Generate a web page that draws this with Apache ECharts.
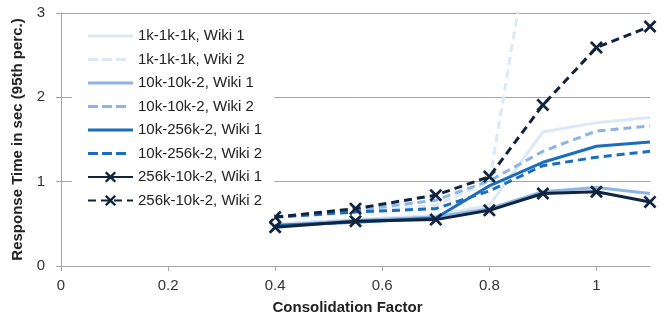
<!DOCTYPE html>
<html>
<head>
<meta charset="utf-8">
<script src="https://cdn.jsdelivr.net/npm/echarts@6/dist/echarts.min.js"></script>
<style>
  html, body { margin: 0; padding: 0; background: #fff; }
  #chart { width: 665px; height: 320px; }
</style>
</head>
<body>
<div id="chart"></div>
<script>
// consolidation factors
const factors = [0.4, 0.55, 0.7, 0.8, 0.9, 1.0, 1.1];

// 95th percentile response time (sec)
const k1k1k1Wiki1 = [0.50, 0.55, 0.60, 0.72, 1.59, 1.70, 1.76];
const k1k1k1Wiki2 = [0.57, 0.64, 0.72, 1.00, 4.80, null, null];
const k10k10Wiki1 = [0.48, 0.54, 0.58, 0.68, 0.88, 0.93, 0.86];
const k10k10Wiki2 = [0.58, 0.66, 0.78, 1.01, 1.36, 1.60, 1.66];
const k10k256Wiki1 = [0.48, 0.52, 0.57, 0.95, 1.23, 1.42, 1.47];
const k10k256Wiki2 = [0.58, 0.64, 0.68, 0.89, 1.19, 1.29, 1.36];
const k256k10Wiki1 = [0.46, 0.53, 0.55, 0.66, 0.86, 0.88, 0.76];
const k256k10Wiki2 = [0.58, 0.68, 0.84, 1.06, 1.91, 2.59, 2.84];

const xTicks = [0, 0.2, 0.4, 0.6, 0.8, 1];

const font = 'Liberation Sans, Arial, sans-serif';
const crossMark = 'path://M0,1.5 L1.5,0 L5,3.5 L8.5,0 L10,1.5 L6.5,5 L10,8.5 L8.5,10 L5,6.5 L1.5,10 L0,8.5 L3.5,5 Z';

// legend icons: tiny corner specks keep the 45x14 box so the stroke stays thin
const box = 'M0,0 h0.01 v0.01 h-0.01 Z M44.99,13.99 h0.01 v0.01 h-0.01 Z ';
const solidIcon = 'path://' + box + 'M0,5.5 h45 v3 h-45 Z';
const dashIcon = 'path://' + box + 'M0,5.5 h10 v3 h-10 Z M14,5.5 h10 v3 h-10 Z M28,5.5 h10 v3 h-10 Z';

const pairs = arr => factors.map((f, i) => [f, arr[i]]);

const makeSeries = (name, data, color, dashed, marked) => ({
  name: name,
  type: 'line',
  data: pairs(data),
  color: color,
  symbol: marked ? crossMark : 'none',
  symbolSize: 13,
  showSymbol: marked,
  itemStyle: { color: color },
  lineStyle: { width: 3, color: color, type: dashed ? [8, 5] : 'solid' },
  clip: true,
  animation: false
});

const chart = echarts.init(document.getElementById('chart'));

chart.setOption({
  backgroundColor: '#fff',
  grid: { left: 61, right: 15, top: 13, bottom: 52 },
  legend: {
    orient: 'vertical',
    left: 72,
    top: 14,
    padding: [14, 12, 10, 15],
    backgroundColor: '#fff',
    itemWidth: 45,
    itemHeight: 14,
    itemGap: 7.5,
    textStyle: { fontFamily: font, fontSize: 15, color: '#222', lineHeight: 16 },
    data: [
      { name: '1k-1k-1k, Wiki 1', icon: solidIcon },
      { name: '1k-1k-1k, Wiki 2', icon: dashIcon },
      { name: '10k-10k-2, Wiki 1', icon: solidIcon },
      { name: '10k-10k-2, Wiki 2', icon: dashIcon },
      { name: '10k-256k-2, Wiki 1', icon: solidIcon },
      { name: '10k-256k-2, Wiki 2', icon: dashIcon },
      { name: '256k-10k-2, Wiki 1' },
      { name: '256k-10k-2, Wiki 2' }
    ]
  },
  xAxis: {
    type: 'value',
    min: 0,
    max: 1.1,
    interval: 0.2,
    name: 'Consolidation Factor',
    nameLocation: 'middle',
    nameGap: 34,
    nameTextStyle: { fontFamily: font, fontSize: 15, fontWeight: 'bold', color: '#222', padding: [0, 16, 0, 0] },
    axisLine: { lineStyle: { color: '#a6a6a6', width: 1 } },
    axisTick: { show: true, length: 5, lineStyle: { color: '#a6a6a6' } },
    splitLine: { show: false },
    axisLabel: {
      fontFamily: font, fontSize: 15, color: '#333', margin: 12,
      showMaxLabel: false,
      formatter: v => xTicks.some(t => Math.abs(t - v) < 1e-9) ? String(+v.toFixed(1)) : ''
    }
  },
  yAxis: {
    type: 'value',
    min: 0,
    max: 3,
    interval: 1,
    name: 'Response Time in sec (95th perc.)',
    nameLocation: 'middle',
    nameGap: 34,
    nameTextStyle: { fontFamily: font, fontSize: 15, fontWeight: 'bold', color: '#222' },
    axisLine: { show: true, lineStyle: { color: '#a6a6a6', width: 1 } },
    axisTick: { show: true, length: 5, lineStyle: { color: '#a6a6a6' } },
    splitLine: { show: true, lineStyle: { color: '#a6a6a6', width: 1 } },
    axisLabel: { fontFamily: font, fontSize: 15, color: '#333', margin: 16 }
  },
  series: [
    makeSeries('1k-1k-1k, Wiki 1', k1k1k1Wiki1, '#dbe9f6', false, false),
    makeSeries('1k-1k-1k, Wiki 2', k1k1k1Wiki2, '#dbe9f6', true, false),
    makeSeries('10k-10k-2, Wiki 1', k10k10Wiki1, '#8db4e2', false, false),
    makeSeries('10k-10k-2, Wiki 2', k10k10Wiki2, '#8db4e2', true, false),
    makeSeries('10k-256k-2, Wiki 1', k10k256Wiki1, '#1c6ebd', false, false),
    makeSeries('10k-256k-2, Wiki 2', k10k256Wiki2, '#1c6ebd', true, false),
    makeSeries('256k-10k-2, Wiki 1', k256k10Wiki1, '#10233f', false, true),
    makeSeries('256k-10k-2, Wiki 2', k256k10Wiki2, '#10233f', true, true)
  ]
});
</script>
</body>
</html>
